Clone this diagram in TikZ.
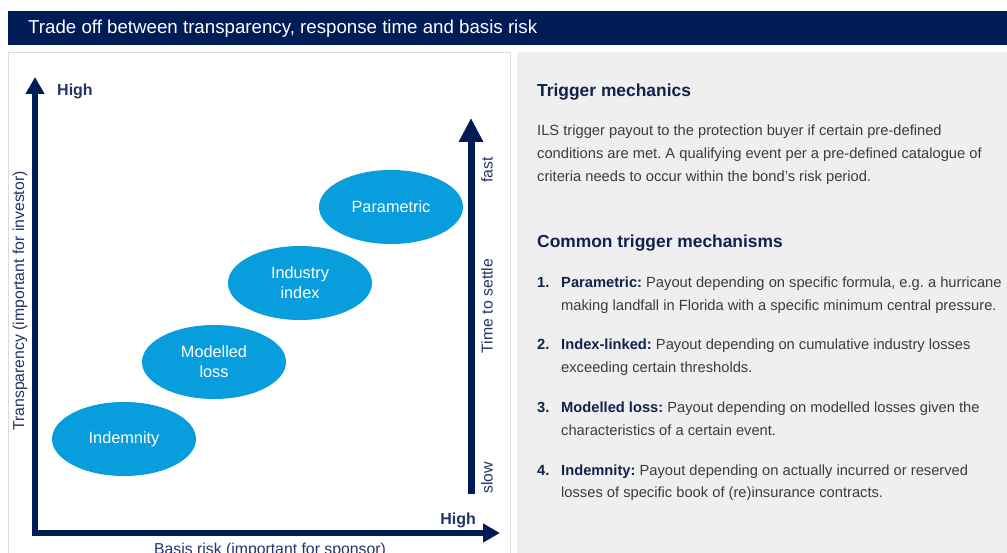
\documentclass[tikz,border=0pt]{standalone}
\usepackage{fontspec}
\setmainfont{Liberation Sans}
\usetikzlibrary{shapes.geometric,arrows.meta}
\frenchspacing

\definecolor{navy}{HTML}{001C57}
\definecolor{skyblue}{HTML}{089DDC}
\definecolor{panelgray}{HTML}{EFEFEF}
\definecolor{framegray}{HTML}{DCDCDC}
\definecolor{bodytext}{HTML}{3C3C3C}
\definecolor{headtext}{HTML}{13214D}
\definecolor{labeltext}{HTML}{24336A}

\tikzset{
  axisline/.style={draw=navy, line width=6pt, line join=miter},
  bubble/.style={ellipse, fill=skyblue, minimum width=144pt, minimum height=74pt,
    inner sep=0pt, text=white, align=center,
    font=\fontsize{16.3}{20}\selectfont},
  axislabel/.style={text=labeltext, font=\fontsize{15.8}{18}\selectfont, inner sep=0pt},
  highlabel/.style={text=labeltext, font=\bfseries\fontsize{16}{18}\selectfont, inner sep=0pt},
  heading/.style={anchor=base west, inner sep=0pt, text=headtext,
    font=\bfseries\fontsize{17.4}{20}\selectfont},
  bodyline/.style={anchor=base west, inner sep=0pt, text=bodytext,
    font=\fontsize{14.7}{17}\selectfont},
  itemnum/.style={anchor=base west, inner sep=0pt, text=headtext,
    font=\bfseries\fontsize{14.7}{17}\selectfont},
}
\newcommand{\itemhead}[1]{\textcolor{headtext}{\bfseries #1}}

\begin{document}
\begin{tikzpicture}[x=1pt,y=-1pt]
\useasboundingbox (0,0) rectangle (1007,553);
\fill[white] (0,0) rectangle (1007,553);

% title bar
\fill[navy] (8,11) rectangle (1007,45);
\node[anchor=west, inner sep=0pt, text=white, font=\fontsize{18.7}{21}\selectfont]
  (title) at (28,28.5) {Trade off between transparency, response time and basis risk};

% panels
\draw[framegray, line width=1pt] (8.5,52.5) rectangle (510,560);
\fill[panelgray] (517,52) rectangle (1007,560);

% main axes
\coordinate (ytop) at (35,77);
\coordinate (corner) at (35,533);
\coordinate (xend) at (500,533);
\draw[axisline, {Triangle[length=17pt,width=18pt]}-{Triangle[length=17pt,width=18pt]}]
  (ytop) -- (corner) -- (xend);

\node[highlabel, anchor=west] (yhigh) at (57,91) {High};
\node[highlabel, anchor=east] (xhigh) at (476,520) {High};
\node[axislabel, rotate=90] (ylab) at (20,301) {Transparency (important for investor)};
\node[axislabel] (xlab) at (270,550) {Basis risk (important for sponsor)};

% time-to-settle arrow
\coordinate (tbot) at (471,494);
\coordinate (ttop) at (471,118);
\draw[navy, line width=7pt, -{Triangle[length=24pt,width=23pt]}] (tbot) -- (ttop);
\node[axislabel, rotate=90] (fast) at (487,170) {fast};
\node[axislabel, rotate=90] (tts) at (487,306) {Time to settle};
\node[axislabel, rotate=90] (slow) at (487,478) {slow};

% trigger types
\node[bubble] (param) at (391,207) {Parametric};
\node[bubble] (indus) at (300,283) {Industry\\index};
\node[bubble] (model) at (214,362) {Modelled\\loss};
\node[bubble] (indem) at (124,439) {Indemnity};

% right-hand text
\node[heading] (h1) at (537,97) {Trigger mechanics};
\node[bodyline] (p1) at (537,136) {ILS trigger payout to the protection buyer if certain pre-defined};
\node[bodyline] (p2) at (537,159) {conditions are met. A qualifying event per a pre-defined catalogue of};
\node[bodyline] (p3) at (537,182) {criteria needs to occur within the bond’s risk period.};

\node[heading] (h2) at (537,248) {Common trigger mechanisms};

\node[itemnum] (n1) at (537,288) {1.};
\node[bodyline] (i1a) at (561,288) {\itemhead{Parametric:} Payout depending on specific formula, e.g. a hurricane};
\node[bodyline] (i1b) at (561,311) {making landfall in Florida with a specific minimum central pressure.};

\node[itemnum] (n2) at (537,350) {2.};
\node[bodyline] (i2a) at (561,350) {\itemhead{Index-linked:} Payout depending on cumulative industry losses};
\node[bodyline] (i2b) at (561,373) {exceeding certain thresholds.};

\node[itemnum] (n3) at (537,412) {3.};
\node[bodyline] (i3a) at (561,412) {\itemhead{Modelled loss:} Payout depending on modelled losses given the};
\node[bodyline] (i3b) at (561,435) {characteristics of a certain event.};

\node[itemnum] (n4) at (537,475) {4.};
\node[bodyline] (i4a) at (561,475) {\itemhead{Indemnity:} Payout depending on actually incurred or reserved};
\node[bodyline] (i4b) at (561,497) {losses of specific book of (re)insurance contracts.};
\end{tikzpicture}
\end{document}
